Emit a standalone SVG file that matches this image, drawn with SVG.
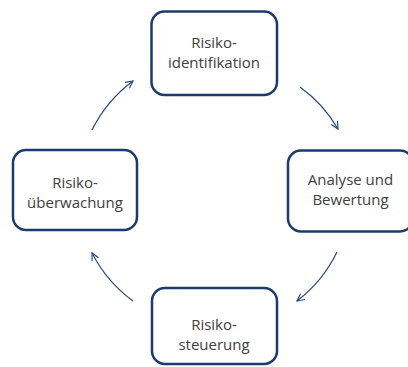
<svg xmlns="http://www.w3.org/2000/svg" width="408" height="367" viewBox="0 0 408 367">
  <defs>
    <style>
      .box { fill: #ffffff; stroke: #1c3a6b; stroke-width: 2.5; }
      .lbl { font-family: "Open Sans", "Liberation Sans", sans-serif; font-size: 15px; fill: #404040; text-anchor: middle; }
      .arc { fill: none; stroke: #2a4a80; stroke-width: 1.2; marker-end: url(#head); }
    </style>
    <marker id="head" viewBox="0 0 10 10" refX="9" refY="5" markerWidth="9" markerHeight="9" markerUnits="userSpaceOnUse" orient="auto">
      <path d="M1,1 L9,5 L1,9" fill="none" stroke="#2a4a80" stroke-width="1.3"/>
    </marker>
  </defs>
  <rect width="408" height="367" fill="#ffffff"/>

  <g id="connectors">
    <path class="arc" d="M92,130 A137,137 0 0 1 133,81"/>
    <path class="arc" d="M300,87 A137,137 0 0 1 338,129"/>
    <path class="arc" d="M337,252 A137,137 0 0 1 297,301"/>
    <path class="arc" d="M133,301 A137,137 0 0 1 92,253"/>
  </g>

  <g id="identifikation">
    <rect class="box" x="151.5" y="11.5" width="125.5" height="83.5" rx="13"/>
    <text class="lbl" x="214" y="48">Risiko-</text>
    <text class="lbl" x="214" y="68">identifikation</text>
  </g>

  <g id="analyse">
    <rect class="box" x="288" y="150.5" width="125" height="81" rx="13"/>
    <text class="lbl" x="350.5" y="185">Analyse und</text>
    <text class="lbl" x="350.5" y="205">Bewertung</text>
  </g>

  <g id="steuerung">
    <rect class="box" x="152" y="288" width="125" height="76" rx="13"/>
    <text class="lbl" x="214" y="330">Risiko-</text>
    <text class="lbl" x="214" y="350">steuerung</text>
  </g>

  <g id="ueberwachung">
    <rect class="box" x="13" y="150" width="124" height="80" rx="13"/>
    <text class="lbl" x="75" y="188">Risiko-</text>
    <text class="lbl" x="75" y="208">überwachung</text>
  </g>
</svg>
